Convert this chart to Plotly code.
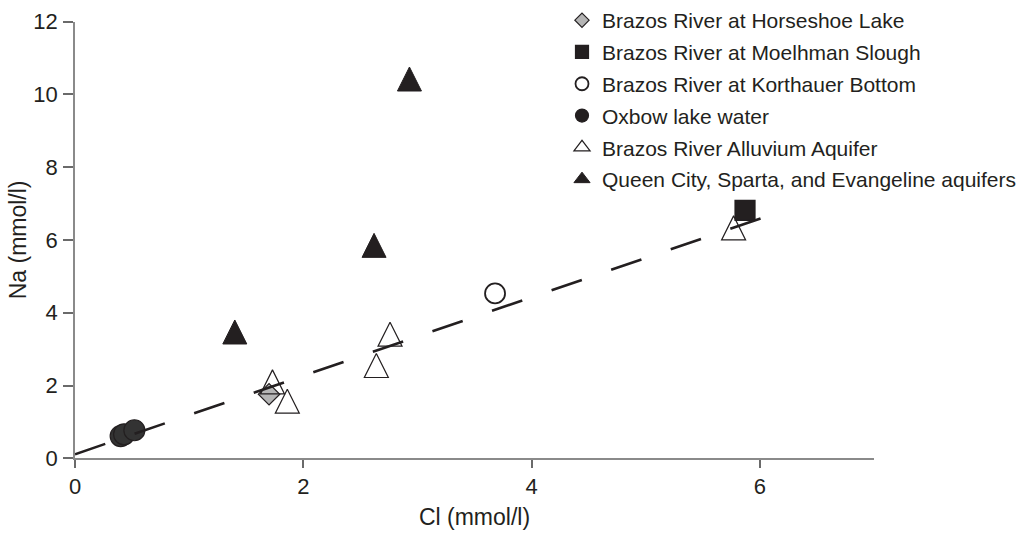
import plotly.graph_objects as go

# ---- data ----
horseshoe_x = [1.70]
horseshoe_y = [1.76]

moelhman_x = [5.87]
moelhman_y = [6.81]

korthauer_x = [3.68]
korthauer_y = [4.53]

oxbow_x = [0.40, 0.43, 0.52]
oxbow_y = [0.61, 0.66, 0.77]

alluvium_x = [1.73, 1.86, 2.64, 2.76, 5.77]
alluvium_y = [2.10, 1.57, 2.55, 3.41, 6.33]

queen_x = [1.40, 2.62, 2.93]
queen_y = [3.47, 5.85, 10.42]

fit_x = [0.0, 6.09]
fit_y = [0.11, 6.68]

x_ticks = [0, 2, 4, 6]
y_ticks = [0, 2, 4, 6, 8, 10, 12]

names = [
    "Brazos River at Horseshoe Lake",
    "Brazos River at Moelhman Slough",
    "Brazos River at Korthauer Bottom",
    "Oxbow lake water",
    "Brazos River Alluvium Aquifer",
    "Queen City, Sparta, and Evangeline aquifers",
]

FONT = "Liberation Sans, Arial, Helvetica, sans-serif"
INK = "#231f20"
W, H = 1036, 533

fig = go.Figure()

# (plot symbol, plot size, fill, legend symbol, legend size, legend fill, outline width)
styles = [
    ("diamond", 16.5, "#b5b5b5", "diamond", 11, "#b5b5b5", 1.2),
    ("square", 20, INK, "square", 13, INK, 1.2),
    ("circle", 20, "white", "circle", 13, "white", 1.8),
    ("circle", 21, "#333333", "circle", 13, INK, 1.2),
    ("arrow-down", 24, "rgba(255,255,255,0)", "triangle-up", 14, "white", 1.2),
    ("arrow-down", 24, INK, "triangle-up", 14, INK, 1.0),
]
series = [
    (horseshoe_x, horseshoe_y),
    (moelhman_x, moelhman_y),
    (korthauer_x, korthauer_y),
    (oxbow_x, oxbow_y),
    (alluvium_x, alluvium_y),
    (queen_x, queen_y),
]

# plotted markers (triangles: arrow shape turned upright and centred on the point)
for (x, y), name, (sym, ps, fill, lsym, ls, lfill, lw) in zip(series, names, styles):
    mk = {}
    if sym.startswith("arrow"):
        mk = dict(angle=180, standoff=ps / 2)
    fig.add_trace(go.Scatter(
        x=x, y=y, mode="markers", name=name, showlegend=False,
        legendgroup=name, cliponaxis=False,
        marker=dict(symbol=sym, size=ps, color=fill,
                    line=dict(color=INK, width=lw), **mk),
    ))

# legend entries
for name, (sym, ps, fill, lsym, ls, lfill, lw) in zip(names, styles):
    fig.add_trace(go.Scatter(
        x=[None], y=[None], mode="markers", name=name, showlegend=True,
        legendgroup=name,
        marker=dict(symbol=lsym, size=ls, color=lfill,
                    line=dict(color=INK, width=lw)),
    ))

fig.add_trace(go.Scatter(
    x=fit_x, y=fit_y, mode="lines", showlegend=False, cliponaxis=False,
    line=dict(color=INK, width=2.6, dash="32px,31px"),
))

axis_common = dict(
    showline=True, linecolor="#8a8a8a", linewidth=1.5,
    ticks="outside", tickcolor="#6a6a6a", tickwidth=1.5,
    showgrid=False, zeroline=False, automargin=False,
    tickfont=dict(family=FONT, size=22, color=INK),
    title_font=dict(family=FONT, size=23, color=INK),
)

fig.update_xaxes(range=[0, 7], tickvals=x_ticks, ticklen=8,
                 domain=[75 / W, 874 / W],
                 title_text="Cl (mmol/l)", title_standoff=10,
                 ticklabelstandoff=0, **axis_common)
fig.update_yaxes(range=[0, 12], tickvals=y_ticks, ticklen=10,
                 domain=[(H - 458.3) / H, (H - 21.5) / H],
                 title_text="Na (mmol/l)", title_standoff=0,
                 ticklabelstandoff=1, **axis_common)

fig.update_layout(
    width=W, height=H,
    margin=dict(l=0, r=0, t=0, b=0, pad=0),
    paper_bgcolor="white", plot_bgcolor="white",
    font=dict(family=FONT, color=INK),
    legend=dict(
        x=562 / W, y=1.0, xanchor="left", yanchor="top",
        font=dict(family=FONT, size=21, color=INK),
        bgcolor="rgba(0,0,0,0)", itemsizing="trace",
        traceorder="grouped", tracegroupgap=1.5,
    ),
)

fig.write_html("out.html")
